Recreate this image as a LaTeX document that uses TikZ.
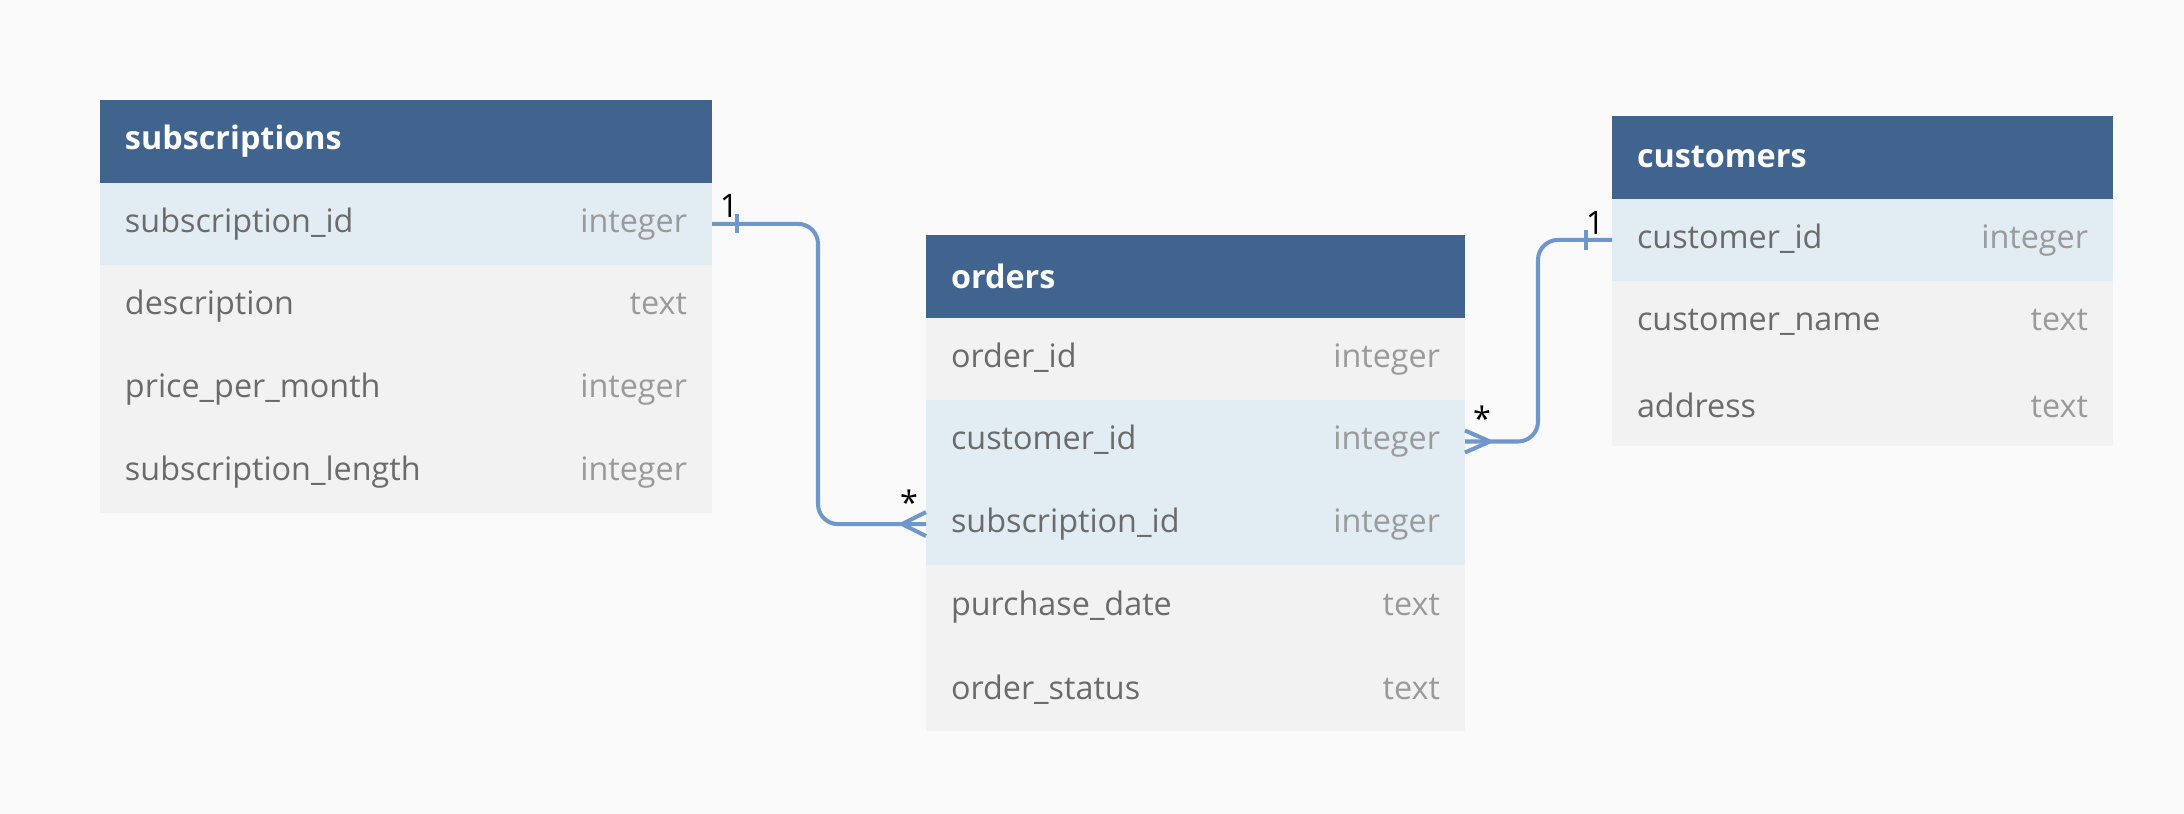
\documentclass[tikz,border=0pt]{standalone}
\usepackage{fontspec}
\setmainfont{Open Sans}
\usetikzlibrary{positioning,calc}
\definecolor{ErdHead}{HTML}{41648F}
\definecolor{ErdKey}{HTML}{E1ECF3}
\definecolor{ErdRow}{HTML}{F2F2F2}
\definecolor{ErdBg}{HTML}{FAFAFA}
\definecolor{ErdName}{HTML}{6B6B6B}
\definecolor{ErdType}{HTML}{9A9A9A}
\definecolor{ErdLink}{HTML}{6F97CB}
\newcommand{\fld}[2]{#1\hfill\textcolor{ErdType}{#2}}

\begin{document}
\begin{tikzpicture}[
  head/.style={fill=ErdHead,text=white,font=\fontsize{9.2}{11}\selectfont\bfseries,text width=#1,minimum height=0.826cm,inner xsep=0.25cm,inner ysep=0pt,outer sep=0pt,anchor=north west},
  field/.style={fill=ErdRow,text=ErdName,font=\fontsize{9.2}{11}\selectfont,text width=#1,minimum height=0.826cm,inner xsep=0.25cm,inner ysep=0pt,outer sep=0pt},
  keyfield/.style={field=#1,fill=ErdKey},
  link/.style={draw=ErdLink,line width=1.15pt},
  mult/.style={font=\fontsize{9.2}{11}\selectfont,text=black,inner sep=0pt}
]
\path[use as bounding box,fill=ErdBg] (0,0) rectangle (21.84,-8.14);

% subscriptions
\node[head=5.62cm] (s0) at (1.00,-1.00) {subscriptions};
\node[keyfield=5.62cm,below=0pt of s0] (s1) {\fld{subscription\_id}{integer}};
\node[field=5.62cm,below=0pt of s1] (s2) {\fld{description}{text}};
\node[field=5.62cm,below=0pt of s2] (s3) {\fld{price\_per\_month}{integer}};
\node[field=5.62cm,below=0pt of s3] (s4) {\fld{subscription\_length}{integer}};

% orders
\node[head=4.89cm] (o0) at (9.26,-2.35) {orders};
\node[field=4.89cm,below=0pt of o0] (o1) {\fld{order\_id}{integer}};
\node[keyfield=4.89cm,below=0pt of o1] (o2) {\fld{customer\_id}{integer}};
\node[keyfield=4.89cm,below=0pt of o2] (o3) {\fld{subscription\_id}{integer}};
\node[field=4.89cm,below=0pt of o3] (o4) {\fld{purchase\_date}{text}};
\node[field=4.89cm,below=0pt of o4] (o5) {\fld{order\_status}{text}};

% customers
\node[head=4.51cm] (c0) at (16.12,-1.16) {customers};
\node[keyfield=4.51cm,below=0pt of c0] (c1) {\fld{customer\_id}{integer}};
\node[field=4.51cm,below=0pt of c1] (c2) {\fld{customer\_name}{text}};
\node[field=4.51cm,below=0pt of c2] (c3) {\fld{address}{text}};

% relations
\draw[link,rounded corners=0.2cm] (s1.east) -- ($(s1.east)+(1.06,0)$) |- (o3.west);
\draw[link] ($(s1.east)+(0.25,0.095)$) -- ($(s1.east)+(0.25,-0.095)$);
\draw[link] ($(o3.west)+(-0.24,0)$) -- ($(o3.west)+(0,0.12)$)
            ($(o3.west)+(-0.24,0)$) -- ($(o3.west)+(0,-0.12)$);
\node[mult] (m1) at ($(s1.east)+(0.17,0.18)$) {1};
\node[mult] (m2) at ($(o3.west)+(-0.17,0.22)$) {*};

\draw[link,rounded corners=0.2cm] (o2.east) -- ($(o2.east)+(0.73,0)$) |- (c1.west);
\draw[link] ($(c1.west)+(-0.26,0.1)$) -- ($(c1.west)+(-0.26,-0.1)$);
\draw[link] ($(o2.east)+(0.25,0)$) -- ($(o2.east)+(0,0.11)$)
            ($(o2.east)+(0.25,0)$) -- ($(o2.east)+(0,-0.11)$);
\node[mult] (m3) at ($(c1.west)+(-0.17,0.17)$) {1};
\node[mult] (m4) at ($(o2.east)+(0.17,0.23)$) {*};
\end{tikzpicture}
\end{document}
